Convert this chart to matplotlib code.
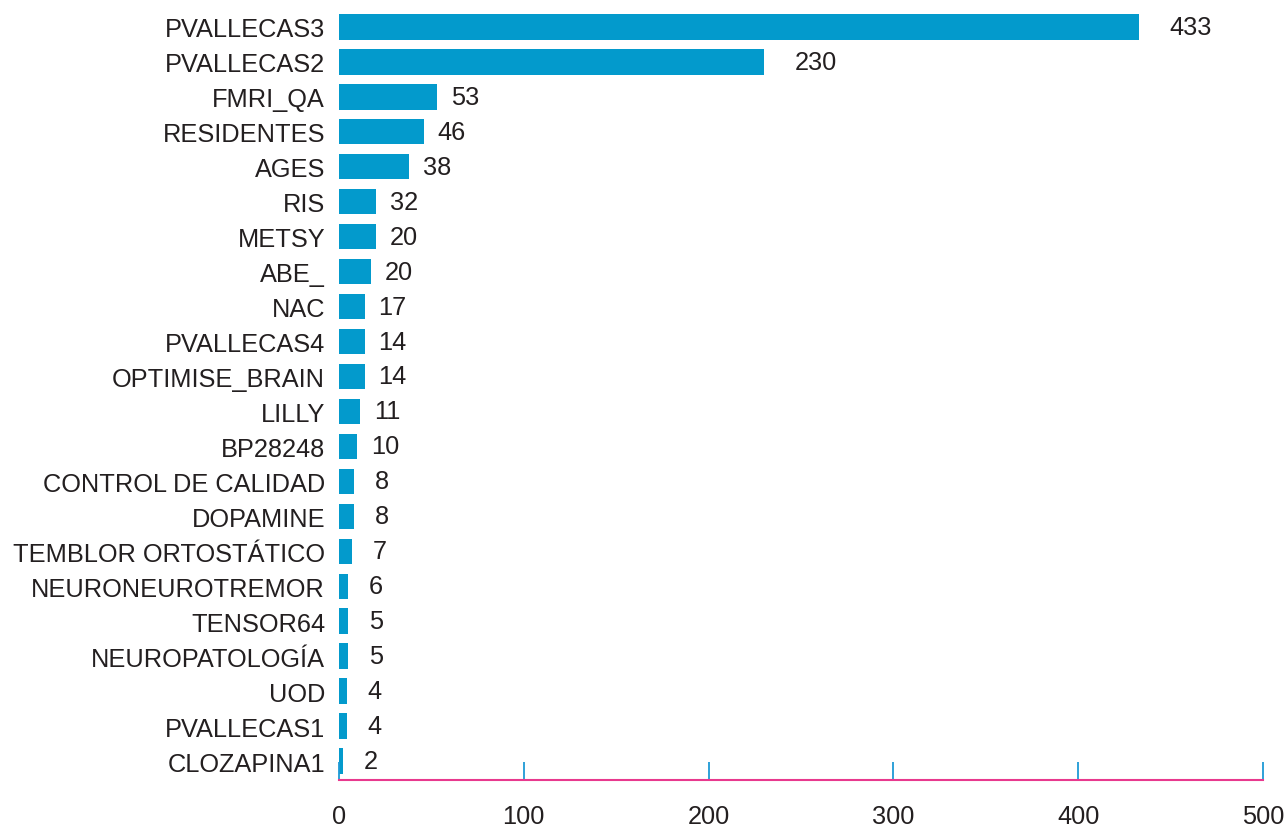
import matplotlib
matplotlib.use("Agg")
import matplotlib.pyplot as plt

categories = ["PVALLECAS3", "PVALLECAS2", "FMRI_QA", "RESIDENTES", "AGES", "RIS",
              "METSY", "ABE_", "NAC", "PVALLECAS4", "OPTIMISE_BRAIN", "LILLY",
              "BP28248", "CONTROL DE CALIDAD", "DOPAMINE", "TEMBLOR ORTOSTÁTICO",
              "NEURONEUROTREMOR", "TENSOR64", "NEUROPATOLOGÍA", "UOD", "PVALLECAS1",
              "CLOZAPINA1"]
# bar lengths as drawn in the reference
bar_lengths = [433, 230, 53, 46, 38, 20, 20, 17.3, 14, 14, 14, 11.3, 10, 8, 8, 7, 5, 5, 5, 4.3, 4.3, 2]
# value labels as printed in the reference
label_values = [433, 230, 53, 46, 38, 32, 20, 20, 17, 14, 14, 11, 10, 8, 8, 7, 6, 5, 5, 4, 4, 2]
xticks = [0, 100, 200, 300, 400, 500]

plt.rcParams['font.family'] = ['Liberation Sans', 'DejaVu Sans']
text_color = "#231f20"
bar_color = "#039ACC"
fs = 18.3

W, H = 1285, 828
fig = plt.figure(figsize=(W / 100, H / 100), dpi=100)
left_px, right_px, top_px, bottom_px = 339, 1263, 10, 781
ax = fig.add_axes([left_px / W, 1 - bottom_px / H, (right_px - left_px) / W, (bottom_px - top_px) / H])

y = list(range(len(categories)))
ax.barh(y, bar_lengths, height=0.73, color=bar_color)
ax.set_ylim(len(categories) - 1 + 0.54, -0.51)
ax.set_xlim(0, 500)

for yi, v, lab in zip(y, bar_lengths, label_values):
    off = 37 if lab >= 100 else 20
    ax.annotate(str(lab), xy=(v, yi), xytext=(off, 0), textcoords="offset points",
                ha="center", va="center", fontsize=fs, color=text_color)

ax.set_yticks(y)
ax.set_yticklabels(categories, fontsize=fs, color=text_color)
ax.tick_params(axis="y", length=0, pad=10)

ax.set_xticks(xticks)
ax.set_xticklabels([str(t) for t in xticks], fontsize=fs, color=text_color)
ax.tick_params(axis="x", direction="in", length=13, width=1.3, color="#1E9AD6", pad=17)

for s in ["top", "right", "left"]:
    ax.spines[s].set_visible(False)
ax.spines["bottom"].set_color("#E8398E")
ax.spines["bottom"].set_linewidth(1.5)

fig.savefig("out.png", dpi=100)
